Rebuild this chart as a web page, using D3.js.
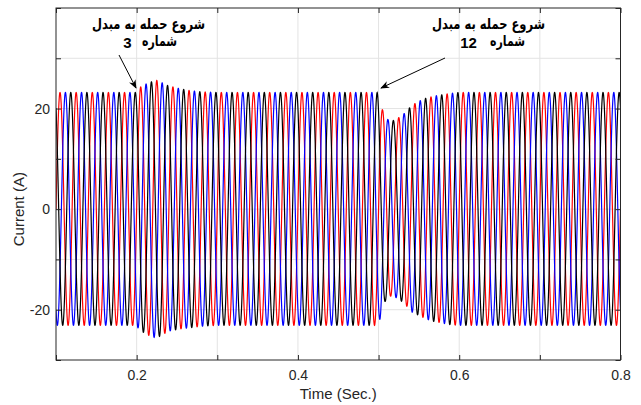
<!DOCTYPE html>
<html>
<head>
<meta charset="utf-8">
<style>
    body { margin: 0; background: #fff; }
    text { font-family: "Liberation Sans", Arial, sans-serif; }
</style>
</head>
<body>
<div id="chart"></div>
<script src="https://cdn.jsdelivr.net/npm/d3@7"></script>
<script>
// three phase currents, 50 Hz, peak envelope
const freq = 50;
const phases = [
    { name: 'a', color: '#ff0000', shift: 0 },
    { name: 'b', color: '#0000ff', shift: -2 * Math.PI / 3 },
    { name: 'c', color: '#000000', shift: 2 * Math.PI / 3 }
];

// positive-peak envelope (A)
const upperTime = [0.100, 0.200, 0.205, 0.212, 0.218, 0.225, 0.232, 0.238, 0.245, 0.255, 0.265, 0.280, 0.300,
                   0.4983, 0.505, 0.5117, 0.518, 0.525, 0.5317, 0.538, 0.545, 0.552, 0.558, 0.570, 0.585, 0.600, 0.800];
const upperPeak = [23.2, 23.2, 24.3, 24.9, 25.3, 25.6, 25.1, 24.6, 24.3, 23.9, 23.6, 23.3, 23.2,
                   23.2, 19.7, 17.8, 17.6, 18.2, 19.0, 20.1, 21.0, 21.6, 22.0, 22.5, 22.9, 23.2, 23.2];
// negative-peak envelope (A)
const lowerTime = [0.100, 0.195, 0.2017, 0.2083, 0.215, 0.2217, 0.2283, 0.235, 0.2417, 0.2483, 0.255, 0.280, 0.300,
                   0.495, 0.5017, 0.5083, 0.515, 0.5217, 0.5283, 0.535, 0.5417, 0.5483, 0.555, 0.5617, 0.568, 0.590, 0.600, 0.800];
const lowerPeak = [-23.1, -23.1, -23.6, -24.5, -25.1, -25.5, -25.3, -24.7, -24.2, -24.0, -23.8, -23.3, -23.1,
                   -23.1, -21.9, -18.3, -17.3, -17.6, -18.3, -19.3, -20.5, -21.0, -21.5, -22.0, -22.3, -23.0, -23.1, -23.1];

const xTicks = [0.1, 0.2, 0.3, 0.4, 0.5, 0.6, 0.7, 0.8];
const xLabels = ['', '0.2', '', '0.4', '', '0.6', '', '0.8'];
const yTicks = [-30, -20, -10, 0, 10, 20, 30, 40];
const yLabels = ['', '-20', '', '0', '', '20', '', ''];

const notes = [
    { title: 'شروع حمله به مبدل', word: 'شماره', num: '3', x: 148.5, wordX: 159.5, numX: 127.5, from: [119, 55], to: [136, 88] },
    { title: 'شروع حمله به مبدل', word: 'شماره', num: '12', x: 488.5, wordX: 507.5, numX: 468.5, from: [445, 58], to: [381, 88] }
];

const width = 641, height = 405;
const margin = { top: 8, right: 20.5, bottom: 45, left: 56 };

const svg = d3.select('#chart').append('svg')
    .attr('width', width)
    .attr('height', height);

svg.append('rect').attr('width', width).attr('height', height).attr('fill', '#fff');

const x = d3.scaleLinear().domain([0.1, 0.8]).range([margin.left, width - margin.right]);
const y = d3.scaleLinear().domain([-30, 40]).range([height - margin.bottom, margin.top]);

const upEnv = d3.scaleLinear().domain(upperTime).range(upperPeak).clamp(true);
const loEnv = d3.scaleLinear().domain(lowerTime).range(lowerPeak).clamp(true);

// grid
svg.append('g').selectAll('line').data(xTicks.slice(1, -1)).join('line')
    .attr('x1', d => x(d)).attr('x2', d => x(d))
    .attr('y1', y(-30)).attr('y2', y(40))
    .attr('stroke', '#e3e3e3').attr('stroke-width', 1);
svg.append('g').selectAll('line').data(yTicks.slice(1, -1)).join('line')
    .attr('y1', d => y(d)).attr('y2', d => y(d))
    .attr('x1', x(0.1)).attr('x2', x(0.8))
    .attr('stroke', '#e3e3e3').attr('stroke-width', 1);

// waveforms
const clipId = 'plotclip';
svg.append('clipPath').attr('id', clipId).append('rect')
    .attr('x', x(0.1)).attr('y', y(40))
    .attr('width', x(0.8) - x(0.1)).attr('height', y(-30) - y(40));

const times = d3.range(0.1, 0.8 + 1e-9, 0.0001);
const line = d3.line().x(d => x(d[0])).y(d => y(d[1]));

phases.forEach(p => {
    const pts = times.map(t => {
        const s = Math.sin(2 * Math.PI * freq * t + p.shift);
        const amp = s >= 0 ? upEnv(t) : -loEnv(t);
        return [t, s * amp];
    });
    svg.append('path')
        .datum(pts)
        .attr('clip-path', `url(#${clipId})`)
        .attr('fill', 'none')
        .attr('stroke', p.color)
        .attr('stroke-width', 1.2)
        .attr('d', line);
});

// box and inward ticks
const axisColor = '#262626';
svg.append('rect')
    .attr('x', x(0.1)).attr('y', y(40))
    .attr('width', x(0.8) - x(0.1)).attr('height', y(-30) - y(40))
    .attr('fill', 'none').attr('stroke', axisColor).attr('stroke-width', 1);

const xAxis = svg.append('g')
    .attr('transform', `translate(0,${y(-30)})`)
    .call(d3.axisBottom(x).tickValues(xTicks).tickSizeInner(-5).tickSizeOuter(0).tickPadding(10)
        .tickFormat((d, i) => xLabels[i]));
const xAxisTop = svg.append('g')
    .attr('transform', `translate(0,${y(40)})`)
    .call(d3.axisTop(x).tickValues(xTicks).tickSizeInner(-5).tickSizeOuter(0).tickFormat(''));
const yAxis = svg.append('g')
    .attr('transform', `translate(${x(0.1)},0)`)
    .call(d3.axisLeft(y).tickValues(yTicks).tickSizeInner(-5).tickSizeOuter(0).tickPadding(6)
        .tickFormat((d, i) => yLabels[i]));
const yAxisRight = svg.append('g')
    .attr('transform', `translate(${x(0.8)},0)`)
    .call(d3.axisRight(y).tickValues(yTicks).tickSizeInner(-5).tickSizeOuter(0).tickFormat(''));

[xAxis, xAxisTop, yAxis, yAxisRight].forEach(g => {
    g.select('.domain').remove();
    g.selectAll('line').attr('stroke', axisColor);
    g.selectAll('text').attr('fill', axisColor).style('font-size', '14px')
        .style('font-family', '"Liberation Sans", Arial, sans-serif');
});

svg.append('text')
    .attr('x', (x(0.1) + x(0.8)) / 2).attr('y', 399)
    .attr('text-anchor', 'middle').attr('fill', axisColor)
    .style('font-size', '15px')
    .text('Time (Sec.)');

svg.append('text')
    .attr('transform', `translate(24,${y(0)}) rotate(-90)`)
    .attr('text-anchor', 'middle').attr('fill', axisColor)
    .style('font-size', '15px')
    .text('Current (A)');

// annotations
const defs = svg.append('defs');
defs.append('marker').attr('id', 'arrowhead')
    .attr('viewBox', '0 0 10 10').attr('refX', 9).attr('refY', 5)
    .attr('markerWidth', 9).attr('markerHeight', 9).attr('orient', 'auto')
    .append('path').attr('d', 'M0,1 L10,5 L0,9 L3,5 Z').attr('fill', '#000');

notes.forEach(n => {
    svg.append('text')
        .attr('x', n.x).attr('y', 29)
        .attr('text-anchor', 'middle')
        .attr('textLength', 113).attr('lengthAdjust', 'spacingAndGlyphs')
        .style('font-family', '"DejaVu Sans", sans-serif')
        .style('font-weight', 'bold').style('font-size', '15px')
        .text(n.title);
    svg.append('text')
        .attr('x', n.wordX).attr('y', 46)
        .attr('text-anchor', 'middle')
        .attr('textLength', 35).attr('lengthAdjust', 'spacingAndGlyphs')
        .style('font-family', '"DejaVu Sans", sans-serif')
        .style('font-weight', 'bold').style('font-size', '15px')
        .text(n.word);
    svg.append('text')
        .attr('x', n.numX).attr('y', 48)
        .attr('text-anchor', 'middle')
        .style('font-family', '"Liberation Sans", Arial, sans-serif')
        .style('font-weight', 'bold').style('font-size', '15px')
        .text(n.num);
    svg.append('line')
        .attr('x1', n.from[0]).attr('y1', n.from[1])
        .attr('x2', n.to[0]).attr('y2', n.to[1])
        .attr('stroke', '#000').attr('stroke-width', 1)
        .attr('marker-end', 'url(#arrowhead)');
});
</script>
</body>
</html>
